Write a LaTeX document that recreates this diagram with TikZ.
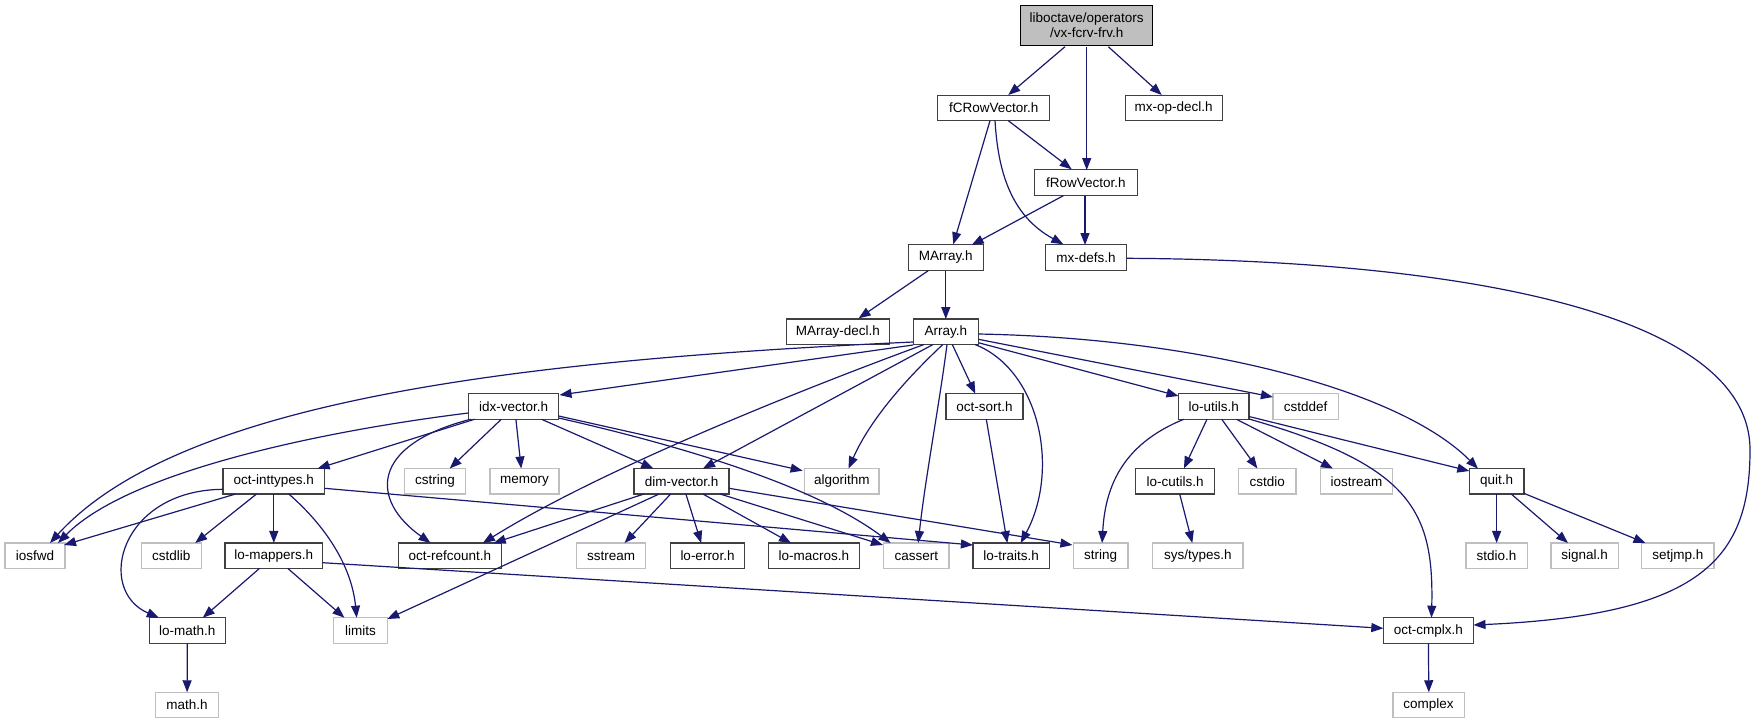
\documentclass[tikz,border=0pt]{standalone}
\usepackage{fontspec}
\setmainfont{Liberation Sans}
\usetikzlibrary{arrows.meta}
\definecolor{edgeblue}{HTML}{191970}
\definecolor{lightgr}{HTML}{BFBFBF}
\definecolor{darkbd}{HTML}{404040}
\begin{document}
\begin{tikzpicture}[x=1pt,y=-1pt,
  box/.style={draw=darkbd, line width=1.4pt, fill=white, minimum height=25.5pt, inner xsep=2pt, inner ysep=0pt, anchor=center, font=\fontsize{13.5}{15}\selectfont},
  gbox/.style={box, draw=lightgr},
  e/.style={draw=edgeblue, line width=1.2pt, -{Triangle[length=12pt,width=9pt]}}]
\useasboundingbox (0,0) rectangle (1758,724);
\fill[white] (0,0) rectangle (1758,724);
% nodes
\node[box, fill=lightgr, draw=black, minimum width=132pt, minimum height=40pt, align=center] (top) at (1086.7,25.5) {liboctave/operators\\/vx-fcrv-frv.h};
\node[box, minimum width=112pt] (fcrv) at (993.7,108) {fCRowVector.h};
\node[box, minimum width=97pt] (mxop) at (1173.7,108) {mx-op-decl.h};
\node[box, minimum width=103pt] (frv) at (1085.8,182.5) {fRowVector.h};
\node[box, minimum width=75pt] (marr) at (945.8,257.5) {MArray.h};
\node[box, minimum width=81pt] (mxdefs) at (1086,257.5) {mx-defs.h};
\node[box, minimum width=102.6pt] (marrdecl) at (837.9,331.8) {MArray-decl.h};
\node[box, minimum width=65pt] (arr) at (945.8,331.8) {Array.h};
\node[box, minimum width=90.3pt] (idx) at (513.6,406.5) {idx-vector.h};
\node[box, minimum width=77pt] (osort) at (984.5,406.5) {oct-sort.h};
\node[box, minimum width=70.5pt] (lout) at (1213.7,406.5) {lo-utils.h};
\node[gbox, minimum width=65.5pt] (cstddef) at (1305.7,406.5) {cstddef};
\node[box, minimum width=101.4pt] (oint) at (273.8,481.3) {oct-inttypes.h};
\node[gbox, minimum width=61.2pt] (cstring) at (435.1,481.3) {cstring};
\node[gbox, minimum width=69.2pt] (memory) at (524.5,481.3) {memory};
\node[box, minimum width=95pt] (dimv) at (681.6,481.3) {dim-vector.h};
\node[gbox, minimum width=74.6pt] (algorithm) at (841.8,481.3) {algorithm};
\node[box, minimum width=78.9pt] (locut) at (1175.2,481.3) {lo-cutils.h};
\node[gbox, minimum width=57.5pt] (cstdio) at (1267.3,481.3) {cstdio};
\node[gbox, minimum width=71.8pt] (iostream) at (1356.6,481.3) {iostream};
\node[box, minimum width=54.5pt] (quit) at (1496.6,481.3) {quit.h};
\node[gbox, minimum width=60pt] (iosfwd) at (35,555.7) {iosfwd};
\node[gbox, minimum width=60pt] (cstdlib) at (171.3,555.7) {cstdlib};
\node[box, minimum width=97.6pt] (lomap) at (273.8,555.7) {lo-mappers.h};
\node[box, minimum width=103pt] (oref) at (449.9,555.7) {oct-refcount.h};
\node[gbox, minimum width=68.9pt] (sstream) at (611.2,555.7) {sstream};
\node[box, minimum width=73.8pt] (loerr) at (707.5,555.7) {lo-error.h};
\node[box, minimum width=90.7pt] (lomac) at (813.9,555.7) {lo-macros.h};
\node[gbox, minimum width=65.4pt] (cassert) at (916.4,555.7) {cassert};
\node[box, minimum width=76.5pt] (lotr) at (1011.2,555.7) {lo-traits.h};
\node[gbox, minimum width=54.7pt] (string) at (1100.6,555.7) {string};
\node[gbox, minimum width=90.6pt] (systypes) at (1197.8,555.7) {sys/types.h};
\node[gbox, minimum width=61.3pt] (stdioh) at (1496.6,555.7) {stdio.h};
\node[gbox, minimum width=67.1pt] (signal) at (1584.7,555.7) {signal.h};
\node[gbox, minimum width=72.2pt] (setjmp) at (1677.8,555.7) {setjmp.h};
\node[box, minimum width=76pt] (lomath) at (187.3,630.5) {lo-math.h};
\node[gbox, minimum width=53.6pt] (limits) at (360.5,630.5) {limits};
\node[box, minimum width=90.2pt] (ocmplx) at (1428.4,630.5) {oct-cmplx.h};
\node[gbox, minimum width=62.7pt] (mathh) at (187.1,705) {math.h};
\node[gbox, minimum width=71.4pt] (complex) at (1428.6,705) {complex};
% edges
\draw[e] ([shift={(-21.7,21.2)}]top.center) -- ([shift={(14.6,-13)}]fcrv.center);
\draw[e] ([shift={(0,21.2)}]top.center) -- ([shift={(0.9,-12.5)}]frv.center);
\draw[e] ([shift={(21.6,21.2)}]top.center) -- ([shift={(-12,-13)}]mxop.center);
\draw[e] ([shift={(14.6,12.7)}]fcrv.center) -- ([shift={(-14.1,-13.2)}]frv.center);
\draw[e] ([shift={(-3.7,12.7)}]fcrv.center) -- ([shift={(7.5,-13.2)}]marr.center);
\draw[e] ([shift={(1.3,12.7)}]fcrv.center) .. controls (998,170) and (1010,215) .. ([shift={(-22.7,-13.2)}]mxdefs.center);
\draw[e] ([shift={(-22.5,13.2)}]frv.center) -- ([shift={(25.9,-12.5)}]marr.center);
\draw[e] ([shift={(-0.8,13.2)}]frv.center) -- ([shift={(-1,-12.5)}]mxdefs.center);
\draw[e] ([shift={(-17.6,13.2)}]marr.center) -- ([shift={(20.7,-13.5)}]marrdecl.center);
\draw[e] ([shift={(0,13.2)}]marr.center) -- ([shift={(0,-12.8)}]arr.center);
\draw[e] ([shift={(40.6,0.8)}]mxdefs.center) .. controls (1450,260) and (1750,310) .. (1750,450) .. controls (1750,560) and (1700,615) .. ([shift={(45.1,-5.5)}]ocmplx.center);
% Array.h
\draw[e] ([shift={(-32.8,13.2)}]arr.center) -- ([shift={(45.9,-11.5)}]idx.center);
\draw[e] ([shift={(-32.8,10.2)}]arr.center) .. controls (520,360) and (180,400) .. ([shift={(15,-12.7)}]iosfwd.center);
\draw[e] ([shift={(-21.8,12.7)}]arr.center) .. controls (800,390) and (600,470) .. ([shift={(33,-12.7)}]oref.center);
\draw[e] ([shift={(-12.8,12.7)}]arr.center) -- ([shift={(21.4,-12.8)}]dimv.center);
\draw[e] ([shift={(-3,12.7)}]arr.center) .. controls (905,380) and (870,420) .. ([shift={(6.7,-12.8)}]algorithm.center);
\draw[e] ([shift={(1.2,12.7)}]arr.center) .. controls (940,400) and (925,480) .. ([shift={(1.8,-12.7)}]cassert.center);
\draw[e] ([shift={(6.5,12.7)}]arr.center) -- ([shift={(-9.2,-12.8)}]osort.center);
\draw[e] ([shift={(29.2,12.7)}]arr.center) .. controls (1040,370) and (1060,470) .. ([shift={(9.5,-12.7)}]lotr.center);
\draw[e] ([shift={(32.6,10.9)}]arr.center) -- ([shift={(-35.2,-10.5)}]lout.center);
\draw[e] ([shift={(32.6,7.5)}]arr.center) -- ([shift={(-32.8,-9.5)}]cstddef.center);
\draw[e] ([shift={(32.6,2.2)}]arr.center) .. controls (1200,338) and (1400,390) .. ([shift={(-18.6,-12.6)}]quit.center);
% idx-vector.h
\draw[e] ([shift={(-45.2,6.5)}]idx.center) .. controls (330,430) and (130,470) .. ([shift={(23,-12.7)}]iosfwd.center);
\draw[e] ([shift={(-39,12.75)}]idx.center) -- ([shift={(43.8,-12.8)}]oint.center);
\draw[e] ([shift={(-42.9,12.75)}]idx.center) .. controls (370,445) and (370,500) .. ([shift={(-19.4,-12.7)}]oref.center);
\draw[e] ([shift={(-12.3,12.75)}]idx.center) -- ([shift={(14.6,-12.8)}]cstring.center);
\draw[e] ([shift={(2.3,12.75)}]idx.center) -- ([shift={(-3.3,-12.8)}]memory.center);
\draw[e] ([shift={(27.9,12.75)}]idx.center) -- ([shift={(-28.3,-12.8)}]dimv.center);
\draw[e] ([shift={(45.1,9.5)}]idx.center) -- ([shift={(-39.2,-10.6)}]algorithm.center);
\draw[e] ([shift={(45.1,11.5)}]idx.center) .. controls (700,450) and (820,490) .. ([shift={(-25.8,-12.7)}]cassert.center);
% oct-inttypes.h
\draw[e] ([shift={(-38.4,12.75)}]oint.center) -- ([shift={(29,-10.7)}]iosfwd.center);
\draw[e] ([shift={(-50.7,8)}]oint.center) .. controls (120,490) and (95,590) .. ([shift={(-28.5,-12.8)}]lomath.center);
\draw[e] ([shift={(-17.4,12.75)}]oint.center) -- ([shift={(23.9,-12.7)}]cstdlib.center);
\draw[e] ([shift={(0,12.75)}]oint.center) -- ([shift={(0,-12.75)}]lomap.center);
\draw[e] ([shift={(15.1,12.75)}]oint.center) .. controls (330,530) and (352,570) .. ([shift={(-3.8,-12.8)}]limits.center);
\draw[e] ([shift={(50.7,7)}]oint.center) -- ([shift={(-38.3,-10.7)}]lotr.center);
% lo-mappers.h
\draw[e] ([shift={(-14.3,12.7)}]lomap.center) -- ([shift={(15.5,-12.8)}]lomath.center);
\draw[e] ([shift={(14,12.7)}]lomap.center) -- ([shift={(-16.1,-12.8)}]limits.center);
\draw[e] ([shift={(48.8,7)}]lomap.center) -- ([shift={(-45.1,-2.2)}]ocmplx.center);
\draw[e] ([shift={(0,12.75)}]lomath.center) -- ([shift={(0,-12.75)}]mathh.center);
% dim-vector.h
\draw[e] ([shift={(-37.8,12.75)}]dimv.center) -- ([shift={(43.8,-12.7)}]oref.center);
\draw[e] ([shift={(-22.6,12.75)}]dimv.center) -- ([shift={(26.8,-11.5)}]limits.center);
\draw[e] ([shift={(-11,12.75)}]dimv.center) -- ([shift={(13.4,-12.7)}]sstream.center);
\draw[e] ([shift={(4.3,12.75)}]dimv.center) -- ([shift={(-6.3,-12.7)}]loerr.center);
\draw[e] ([shift={(21.4,12.75)}]dimv.center) -- ([shift={(-22.9,-12.7)}]lomac.center);
\draw[e] ([shift={(38.7,12.75)}]dimv.center) -- ([shift={(-33.4,-10.7)}]cassert.center);
\draw[e] ([shift={(47.5,7)}]dimv.center) -- ([shift={(-28.2,-10.7)}]string.center);
\draw[e] ([shift={(1.8,12.75)}]osort.center) -- ([shift={(-3.9,-12.7)}]lotr.center);
% lo-utils.h
\draw[e] ([shift={(-29.8,12.75)}]lout.center) .. controls (1120,445) and (1105,490) .. ([shift={(1.5,-12.7)}]string.center);
\draw[e] ([shift={(-6.7,12.75)}]lout.center) -- ([shift={(8.7,-12.8)}]locut.center);
\draw[e] ([shift={(8,12.75)}]lout.center) -- ([shift={(-9.9,-12.8)}]cstdio.center);
\draw[e] ([shift={(22.7,12.75)}]lout.center) -- ([shift={(-23.7,-12.8)}]iostream.center);
\draw[e] ([shift={(35.3,10)}]lout.center) -- ([shift={(-27.3,-10.3)}]quit.center);
\draw[e] ([shift={(35.3,12.5)}]lout.center) .. controls (1410,465) and (1434,510) .. ([shift={(3.1,-12.8)}]ocmplx.center);
\draw[e] ([shift={(4.5,12.75)}]locut.center) -- ([shift={(-5.5,-12.7)}]systypes.center);
% quit.h
\draw[e] ([shift={(0,12.75)}]quit.center) -- ([shift={(0,-12.75)}]stdioh.center);
\draw[e] ([shift={(14.7,12.75)}]quit.center) -- ([shift={(-16.7,-12.7)}]signal.center);
\draw[e] ([shift={(27.2,12)}]quit.center) -- ([shift={(-32.3,-12.7)}]setjmp.center);
\draw[e] ([shift={(0,12.75)}]ocmplx.center) -- ([shift={(0.2,-12.75)}]complex.center);
\end{tikzpicture}
\end{document}
